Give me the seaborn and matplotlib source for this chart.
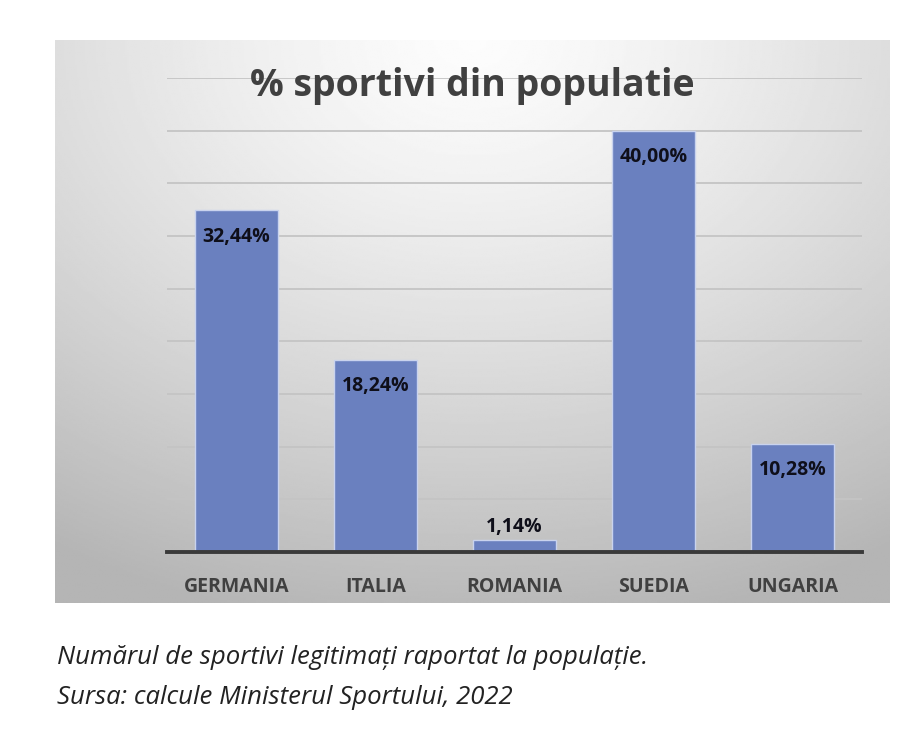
import matplotlib
matplotlib.use("Agg")
import matplotlib.pyplot as plt
import numpy as np
import pandas as pd
import seaborn as sns

# date
tari = ["GERMANIA", "ITALIA", "ROMANIA", "SUEDIA", "UNGARIA"]
procente = [32.44, 18.24, 1.14, 40.00, 10.28]

df = pd.DataFrame({"Tara": tari, "Procent": procente})

sns.set_theme(style="white")
plt.rcParams["font.family"] = ["Open Sans", "DejaVu Sans"]

W, H = 900, 745
fig = plt.figure(figsize=(W / 100, H / 100), dpi=100)
fig.patch.set_facecolor("white")

# panoul gri cu gradient (ca in Excel)
bg = fig.add_axes([55 / W, 1 - 603 / H, (890 - 55) / W, (603 - 40) / H])
yy, xx = np.mgrid[0:1:300j, 0:1:400j]
dist = np.sqrt(((xx - 0.5) * 1.0) ** 2 + (yy * 0.9) ** 2)
shade = 0.99 - 0.28 * np.clip(dist / 0.95, 0, 1) ** 1.3
bg.imshow(shade, cmap="gray", vmin=0, vmax=1, aspect="auto", extent=[0, 1, 1, 0])
bg.set_axis_off()

ax = fig.add_axes([167 / W, 1 - 552 / H, (862 - 167) / W, (552 - 78) / H])
ax.patch.set_alpha(0)

sns.barplot(data=df, x="Tara", y="Procent", color="#6a80bf", width=0.6,
            edgecolor="#c9d3ee", linewidth=1, saturation=1, ax=ax, zorder=3)

ax.set_ylim(0, 45)
ax.set_yticks(np.arange(0, 46, 5))
ax.yaxis.grid(True, color="#c4c4c4", linewidth=1.3, zorder=0)
ax.set_axisbelow(True)
ax.tick_params(axis="y", left=False, labelleft=False)
ax.tick_params(axis="x", bottom=False, pad=12, labelsize=14, labelcolor="#404040")
for lab in ax.get_xticklabels():
    lab.set_fontweight("bold")
for s in ["left", "right", "top"]:
    ax.spines[s].set_visible(False)
ax.spines["bottom"].set_color("#3a3a3a")
ax.spines["bottom"].set_linewidth(2.8)
ax.spines["bottom"].set_zorder(5)
ax.set_xlabel("")
ax.set_ylabel("")

# etichete cu valori
for i, v in enumerate(procente):
    txt = f"{v:.2f}".replace(".", ",") + "%"
    if v < 5:
        ax.annotate(txt, (i, v), xytext=(0, 2), textcoords="offset points",
                    ha="center", va="bottom", fontsize=14, fontweight="bold",
                    color="#0f0f1a", zorder=6)
    else:
        ax.annotate(txt, (i, v), xytext=(0, -19), textcoords="offset points",
                    ha="center", va="center", fontsize=14, fontweight="bold",
                    color="#0f0f1a", zorder=6)

fig.text(472 / W, 1 - 86 / H, "% sportivi din populatie", ha="center", va="center",
         fontsize=27, fontweight="bold", color="#404040")

fig.text(57 / W, 1 - 657 / H, "Numărul de sportivi legitimați raportat la populație.",
         ha="left", va="center", fontsize=18.5, style="italic", color="#222222")
fig.text(57 / W, 1 - 698 / H, "Sursa: calcule Ministerul Sportului, 2022",
         ha="left", va="center", fontsize=18.5, style="italic", color="#222222")

fig.savefig("out.png", dpi=100)
